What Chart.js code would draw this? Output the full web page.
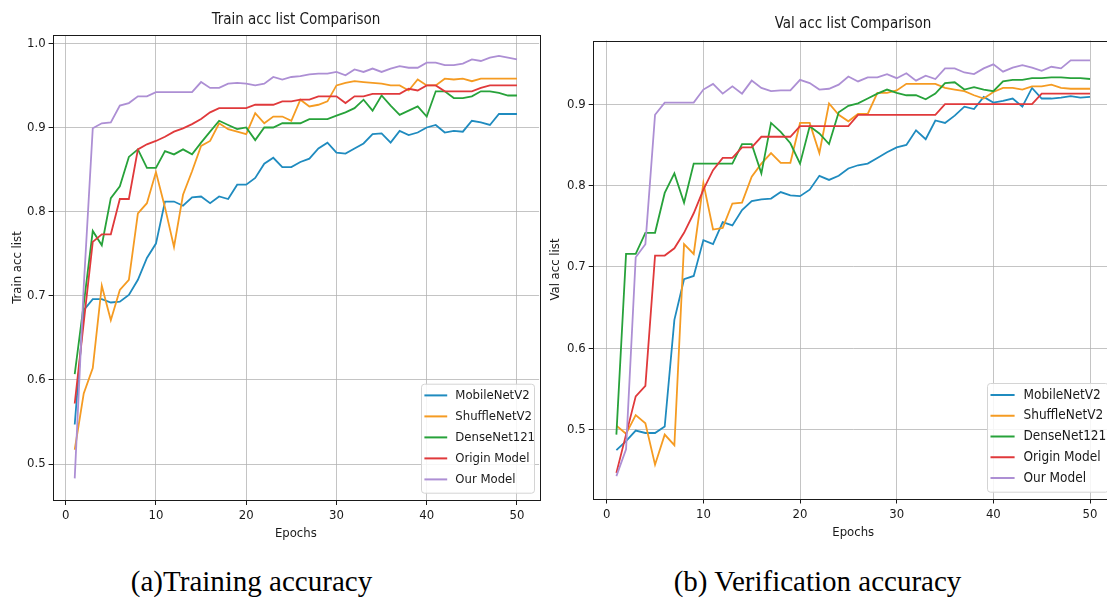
<!DOCTYPE html>
<html>
<head>
<meta charset="utf-8">
<title>Train / Val accuracy comparison</title>
<script src="https://cdn.jsdelivr.net/npm/chart.js@4.4.1/dist/chart.umd.min.js"></script>
<style>
    html, body { margin: 0; padding: 0; background: #fff; overflow: hidden; }
    body { width: 1107px; height: 600px; position: relative; }
    canvas { position: absolute; top: 0; }
    #trainChart { left: 0; width: 592px; height: 548px; }
    #valChart { left: 540px; width: 626px; height: 548px; }
    .caption {
        position: absolute;
        top: 567px;
        font-family: 'Liberation Serif', 'Times New Roman', serif;
        font-size: 29px;
        line-height: 29px;
        text-align: center;
        color: #000;
        white-space: nowrap;
    }
</style>
</head>
<body>

<canvas id="trainChart" width="592" height="548"></canvas>
<canvas id="valChart" width="626" height="548"></canvas>
<div class="caption" style="left:0; width:503px;">(a)Training accuracy</div>
<div class="caption" style="left:550px; width:535px;">(b) Verification accuracy</div>

<script>
// =============================================
// DATA
// =============================================
const epochs = Array.from({ length: 50 }, (_, i) => i + 1);
const epochTicks = [0, 10, 20, 30, 40, 50];
const trainTicks = [0.5, 0.6, 0.7, 0.8, 0.9, 1.0];
const valTicks = [0.5, 0.6, 0.7, 0.8, 0.9];

const modelNames = ["MobileNetV2", "ShuffleNetV2", "DenseNet121", "Origin Model", "Our Model"];

// Train accuracy
const trainMobile = [0.547, 0.683, 0.696, 0.696, 0.692, 0.693, 0.701, 0.719, 0.745, 0.762,
    0.812, 0.812, 0.807, 0.817, 0.818, 0.810, 0.818, 0.815, 0.832, 0.832,
    0.840, 0.857, 0.864, 0.853, 0.853, 0.859, 0.863, 0.875, 0.882, 0.870,
    0.869, 0.875, 0.881, 0.892, 0.893, 0.882, 0.896, 0.891, 0.894, 0.900,
    0.903, 0.894, 0.896, 0.895, 0.908, 0.906, 0.903, 0.916, 0.916, 0.916];
const trainShuffle = [0.517, 0.584, 0.614, 0.712, 0.671, 0.707, 0.719, 0.798, 0.810, 0.847,
    0.805, 0.758, 0.820, 0.848, 0.878, 0.884, 0.905, 0.898, 0.895, 0.892,
    0.917, 0.905, 0.913, 0.913, 0.908, 0.933, 0.925, 0.927, 0.931, 0.950,
    0.953, 0.955, 0.954, 0.953, 0.952, 0.950, 0.950, 0.944, 0.957, 0.950,
    0.950, 0.958, 0.957, 0.958, 0.955, 0.958, 0.958, 0.958, 0.958, 0.958];
const trainDense = [0.607, 0.690, 0.777, 0.760, 0.816, 0.830, 0.865, 0.874, 0.852, 0.852,
    0.872, 0.868, 0.874, 0.868, 0.882, 0.895, 0.908, 0.903, 0.898, 0.900,
    0.885, 0.900, 0.900, 0.905, 0.905, 0.905, 0.910, 0.910, 0.910, 0.914,
    0.918, 0.923, 0.933, 0.920, 0.938, 0.926, 0.915, 0.920, 0.925, 0.913,
    0.943, 0.943, 0.935, 0.935, 0.937, 0.943, 0.943, 0.941, 0.938, 0.938];
const trainOrigin = [0.572, 0.668, 0.764, 0.773, 0.773, 0.815, 0.815, 0.874, 0.880, 0.884,
    0.889, 0.895, 0.899, 0.904, 0.910, 0.918, 0.923, 0.923, 0.923, 0.923,
    0.927, 0.927, 0.927, 0.931, 0.931, 0.933, 0.933, 0.937, 0.937, 0.937,
    0.929, 0.937, 0.937, 0.940, 0.940, 0.940, 0.940, 0.946, 0.944, 0.950,
    0.950, 0.943, 0.943, 0.943, 0.943, 0.947, 0.950, 0.950, 0.950, 0.950];
const trainOur = [0.483, 0.711, 0.899, 0.905, 0.906, 0.926, 0.929, 0.937, 0.937, 0.942,
    0.942, 0.942, 0.942, 0.942, 0.954, 0.947, 0.947, 0.952, 0.953, 0.952,
    0.950, 0.952, 0.960, 0.957, 0.960, 0.961, 0.963, 0.964, 0.964, 0.966,
    0.962, 0.969, 0.966, 0.970, 0.966, 0.970, 0.973, 0.971, 0.971, 0.977,
    0.977, 0.974, 0.974, 0.976, 0.981, 0.979, 0.983, 0.985, 0.983, 0.981];

// Val accuracy
const valMobile = [0.475, 0.486, 0.499, 0.496, 0.496, 0.504, 0.635, 0.685, 0.689, 0.733,
    0.728, 0.755, 0.751, 0.770, 0.781, 0.783, 0.784, 0.792, 0.788, 0.787,
    0.795, 0.812, 0.807, 0.812, 0.821, 0.825, 0.827, 0.834, 0.841, 0.847,
    0.850, 0.868, 0.857, 0.880, 0.877, 0.886, 0.897, 0.894, 0.909, 0.902,
    0.904, 0.907, 0.897, 0.920, 0.907, 0.907, 0.908, 0.910, 0.908, 0.909];
const valShuffle = [0.505, 0.495, 0.518, 0.508, 0.457, 0.494, 0.481, 0.728, 0.716, 0.803,
    0.746, 0.748, 0.778, 0.779, 0.811, 0.827, 0.840, 0.828, 0.828, 0.877,
    0.877, 0.840, 0.901, 0.887, 0.879, 0.888, 0.888, 0.914, 0.914, 0.917,
    0.925, 0.925, 0.925, 0.925, 0.920, 0.918, 0.916, 0.911, 0.907, 0.915,
    0.920, 0.920, 0.918, 0.922, 0.922, 0.924, 0.920, 0.919, 0.919, 0.919];
const valDense = [0.494, 0.716, 0.716, 0.742, 0.742, 0.791, 0.815, 0.779, 0.827, 0.827,
    0.827, 0.827, 0.827, 0.851, 0.851, 0.815, 0.877, 0.866, 0.852, 0.827,
    0.873, 0.864, 0.851, 0.890, 0.898, 0.901, 0.907, 0.913, 0.918, 0.914,
    0.911, 0.911, 0.906, 0.913, 0.926, 0.927, 0.918, 0.921, 0.918, 0.916,
    0.928, 0.930, 0.930, 0.932, 0.932, 0.933, 0.933, 0.932, 0.932, 0.931];
const valOrigin = [0.447, 0.494, 0.541, 0.554, 0.714, 0.714, 0.723, 0.742, 0.766, 0.795,
    0.819, 0.834, 0.834, 0.847, 0.847, 0.860, 0.860, 0.860, 0.860, 0.873,
    0.873, 0.873, 0.873, 0.873, 0.873, 0.887, 0.887, 0.887, 0.887, 0.887,
    0.887, 0.887, 0.887, 0.887, 0.900, 0.900, 0.900, 0.900, 0.900, 0.900,
    0.900, 0.900, 0.900, 0.900, 0.913, 0.913, 0.913, 0.913, 0.913, 0.913];
const valOur = [0.443, 0.476, 0.712, 0.728, 0.887, 0.902, 0.902, 0.902, 0.902, 0.918,
    0.925, 0.913, 0.922, 0.913, 0.929, 0.920, 0.916, 0.917, 0.917, 0.930,
    0.926, 0.918, 0.919, 0.924, 0.934, 0.928, 0.933, 0.933, 0.937, 0.932,
    0.938, 0.929, 0.935, 0.931, 0.944, 0.944, 0.939, 0.937, 0.944, 0.949,
    0.940, 0.945, 0.948, 0.945, 0.941, 0.946, 0.944, 0.954, 0.954, 0.954];

// =============================================
// STYLE
// =============================================
const FONT = "'Liberation Sans Narrow', 'DejaVu Sans Condensed', 'DejaVu Sans', sans-serif";
const TEXT = "#1a1a1a";
const GRID = "rgba(176,176,176,0.75)";
const modelColors = ["#1f8bbf", "#f59b22", "#27a23a", "#e0393b", "#ad8fd4"];

// =============================================
// PLUGIN: axes frame + boxed legend
// =============================================
const frameAndLegend = {
    id: "frameAndLegend",
    afterDraw(chart, args, opts) {
        const ctx = chart.ctx;
        const a = chart.chartArea;
        ctx.save();

        // full frame (all four spines)
        ctx.strokeStyle = "#1a1a1a";
        ctx.lineWidth = 1;
        ctx.strokeRect(Math.round(a.left) + 0.5, Math.round(a.top) + 0.5,
            Math.round(a.right - a.left), Math.round(a.bottom - a.top));

        // legend box in lower right corner
        const x = a.right - opts.right - opts.width;
        const y = a.bottom - opts.bottom - opts.height;
        ctx.fillStyle = "rgba(255,255,255,0.85)";
        ctx.strokeStyle = "#d4d4d4";
        ctx.beginPath();
        ctx.roundRect(x + 0.5, y + 0.5, opts.width, opts.height, 3);
        ctx.fill();
        ctx.stroke();

        ctx.font = `${opts.fontSize}px ${FONT}`;
        ctx.textBaseline = "middle";
        chart.data.datasets.forEach((ds, i) => {
            const cy = y + opts.first + i * opts.rowH;
            ctx.strokeStyle = ds.borderColor;
            ctx.lineWidth = 2;
            ctx.beginPath();
            ctx.moveTo(x + opts.pad, cy);
            ctx.lineTo(x + opts.pad + opts.handle, cy);
            ctx.stroke();
            ctx.fillStyle = TEXT;
            ctx.fillText(ds.label, x + opts.textX, cy);
        });
        ctx.restore();
    }
};

// =============================================
// BUILD CHART
// =============================================
function makeChart(canvasId, cfg) {
    const datasets = cfg.series.map((values, i) => ({
        label: modelNames[i],
        data: values.map((v, k) => ({ x: epochs[k], y: v })),
        borderColor: modelColors[i],
        borderWidth: 1.8,
        pointRadius: 0,
        tension: 0,
        fill: false,
        order: cfg.series.length - i
    }));

    return new Chart(document.getElementById(canvasId), {
        type: "line",
        data: { datasets },
        plugins: [frameAndLegend],
        options: {
            responsive: false,
            animation: false,
            devicePixelRatio: 1,
            events: [],
            layout: { padding: 0 },
            plugins: {
                legend: { display: false },
                tooltip: { enabled: false },
                title: {
                    display: true,
                    text: cfg.title,
                    color: TEXT,
                    font: { family: FONT, size: 15, weight: "normal" },
                    padding: { top: cfg.titleTop, bottom: cfg.titleBottom }
                },
                frameAndLegend: cfg.legend
            },
            scales: {
                x: {
                    type: "linear",
                    min: -1.45,
                    max: 52.45,
                    afterBuildTicks: s => { s.ticks = epochTicks.map(v => ({ value: v })); },
                    afterFit: s => { s.height = cfg.xHeight; },
                    border: { display: false },
                    grid: { color: GRID, lineWidth: 1, tickColor: TEXT, tickLength: 5 },
                    ticks: {
                        color: TEXT, padding: 3, maxRotation: 0, autoSkip: false,
                        font: { family: FONT, size: 13 },
                        callback: v => String(v)
                    },
                    title: {
                        display: true, text: "Epochs", color: TEXT,
                        font: { family: FONT, size: 13 },
                        padding: { top: 0, bottom: cfg.xTitlePad }
                    }
                },
                y: {
                    type: "linear",
                    min: cfg.yMin,
                    max: cfg.yMax,
                    afterBuildTicks: s => { s.ticks = cfg.yTicks.map(v => ({ value: v })); },
                    afterFit: s => { s.width = cfg.yWidth; },
                    border: { display: false },
                    grid: { color: GRID, lineWidth: 1, tickColor: TEXT, tickLength: 4 },
                    ticks: {
                        color: TEXT, padding: 3, autoSkip: false,
                        font: { family: FONT, size: 13 },
                        callback: v => v.toFixed(1)
                    },
                    title: {
                        display: true, text: cfg.yLabel, color: TEXT,
                        font: { family: FONT, size: 13 },
                        padding: { top: cfg.yTitlePad, bottom: 0 }
                    }
                },
                // empty spacer on the right so the title stays centred over the plot
                spacer: {
                    type: "linear",
                    position: "right",
                    display: true,
                    afterFit: s => { s.width = cfg.padRight; },
                    border: { display: false },
                    grid: { display: false, drawTicks: false },
                    ticks: { display: false }
                }
            }
        }
    });
}

// =============================================
// INIT
// =============================================
makeChart("trainChart", {
    title: "Train acc list Comparison",
    yLabel: "Train acc list",
    series: [trainMobile, trainShuffle, trainDense, trainOrigin, trainOur],
    yMin: 0.4573, yMax: 1.0099, yTicks: trainTicks,
    padRight: 52.9, yWidth: 52.6, xHeight: 48,
    titleTop: 11.2, titleBottom: 5.8, xTitlePad: 6.2, yTitlePad: 10.2,
    legend: { right: 5.1, bottom: 7.3, width: 113, height: 109, pad: 3.4, handle: 22.8,
        textX: 34.3, first: 11.7, rowH: 21, fontSize: 13 }
});

makeChart("valChart", {
    title: "Val acc list Comparison",
    yLabel: "Val acc list",
    series: [valMobile, valShuffle, valDense, valOrigin, valOur],
    yMin: 0.4155, yMax: 0.9783, yTicks: valTicks,
    padRight: 52.3, yWidth: 52.7, xHeight: 49.5,
    titleTop: 15.2, titleBottom: 7.3, xTitlePad: 7.7, yTitlePad: 7.7,
    legend: { right: 5.7, bottom: 6.8, width: 121, height: 108.7, pad: 3.5, handle: 24.1,
        textX: 36.5, first: 12, rowH: 20.75, fontSize: 13.5 }
});
</script>
</body>
</html>
